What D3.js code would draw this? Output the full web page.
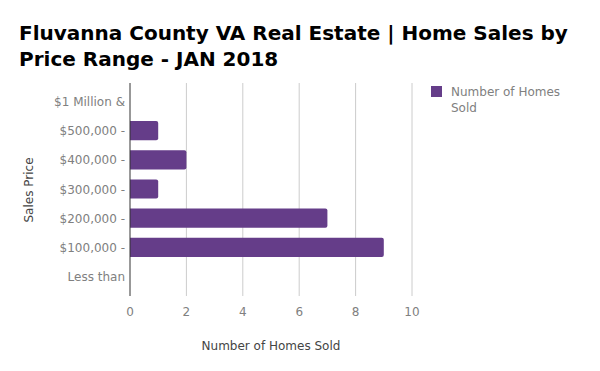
<!DOCTYPE html>
<html lang="en">
<head>
<meta charset="utf-8">
<script src="https://d3js.org/d3.v7.min.js"></script>
<style>
  body { margin: 0; background: #fff; }
  text { font-family: "DejaVu Sans", Verdana, sans-serif; }
</style>
</head>
<body>
<div id="chart"></div>
<script>
// data
const categories = ["$1 Million &", "$500,000 -", "$400,000 -", "$300,000 -", "$200,000 -", "$100,000 -", "Less than"];
const homesSold = [0, 1, 2, 1, 7, 9, 0];
const xTicks = [0, 2, 4, 6, 8, 10];
const seriesName = "Number of Homes Sold";

const width = 600, height = 371;
const plotLeft = 130, plotRight = 412, plotTop = 83, plotBottom = 296;

const svg = d3.select("#chart").append("svg")
    .attr("width", width).attr("height", height);

svg.append("rect").attr("width", width).attr("height", height).attr("fill", "#fff");

// title
const title = svg.append("text")
    .attr("font-size", 20).attr("font-weight", "bold").attr("fill", "#000");
title.append("tspan").attr("x", 19).attr("y", 40).text("Fluvanna County VA Real Estate | Home Sales by");
title.append("tspan").attr("x", 19).attr("y", 66).text("Price Range - JAN 2018");

const x = d3.scaleLinear().domain([0, 10]).range([plotLeft, plotRight]);
const y = d3.scaleBand().domain(categories).range([87, 291]).paddingInner(0.34).paddingOuter(0.17);

// gridlines
svg.selectAll(".grid")
    .data(xTicks.filter(d => d > 0))
    .enter().append("line")
    .attr("x1", d => x(d)).attr("x2", d => x(d))
    .attr("y1", plotTop).attr("y2", plotBottom)
    .attr("stroke", "#cccccc").attr("stroke-width", 1);

// x tick labels
svg.selectAll(".xlab")
    .data(xTicks)
    .enter().append("text")
    .attr("x", d => x(d)).attr("y", 316)
    .attr("text-anchor", "middle").attr("font-size", 12).attr("fill", "#808080")
    .text(d => d);

// bars
svg.selectAll(".bar")
    .data(categories)
    .enter().append("path")
    .attr("fill", "#653d89")
    .attr("d", (d, i) => {
        const v = homesSold[i];
        if (v <= 0) return null;
        const x0 = x(0), x1 = x(v), y0 = y(d), h = y.bandwidth(), r = 2;
        return `M${x0},${y0}H${x1 - r}Q${x1},${y0} ${x1},${y0 + r}V${y0 + h - r}Q${x1},${y0 + h} ${x1 - r},${y0 + h}H${x0}Z`;
    });

// baseline
svg.append("line")
    .attr("x1", x(0)).attr("x2", x(0))
    .attr("y1", plotTop).attr("y2", plotBottom)
    .attr("stroke", "#333").attr("stroke-width", 1);

// y labels
svg.selectAll(".ylab")
    .data(categories)
    .enter().append("text")
    .attr("x", 125).attr("y", d => y(d) + y.bandwidth() / 2 + 4.5)
    .attr("text-anchor", "end").attr("font-size", 12).attr("fill", "#808080")
    .text(d => d);

// axis titles
svg.append("text")
    .attr("transform", "translate(33,190) rotate(-90)")
    .attr("text-anchor", "middle").attr("font-size", 12).attr("fill", "#444")
    .text("Sales Price");

svg.append("text")
    .attr("x", 271).attr("y", 350)
    .attr("text-anchor", "middle").attr("font-size", 12).attr("fill", "#444")
    .text(seriesName);

// legend
svg.append("rect")
    .attr("x", 431).attr("y", 86).attr("width", 11).attr("height", 11)
    .attr("fill", "#653d89");
const leg = svg.append("text").attr("font-size", 12).attr("fill", "#808080");
leg.append("tspan").attr("x", 451).attr("y", 96).text("Number of Homes");
leg.append("tspan").attr("x", 451).attr("y", 112).text("Sold");
</script>
</body>
</html>
